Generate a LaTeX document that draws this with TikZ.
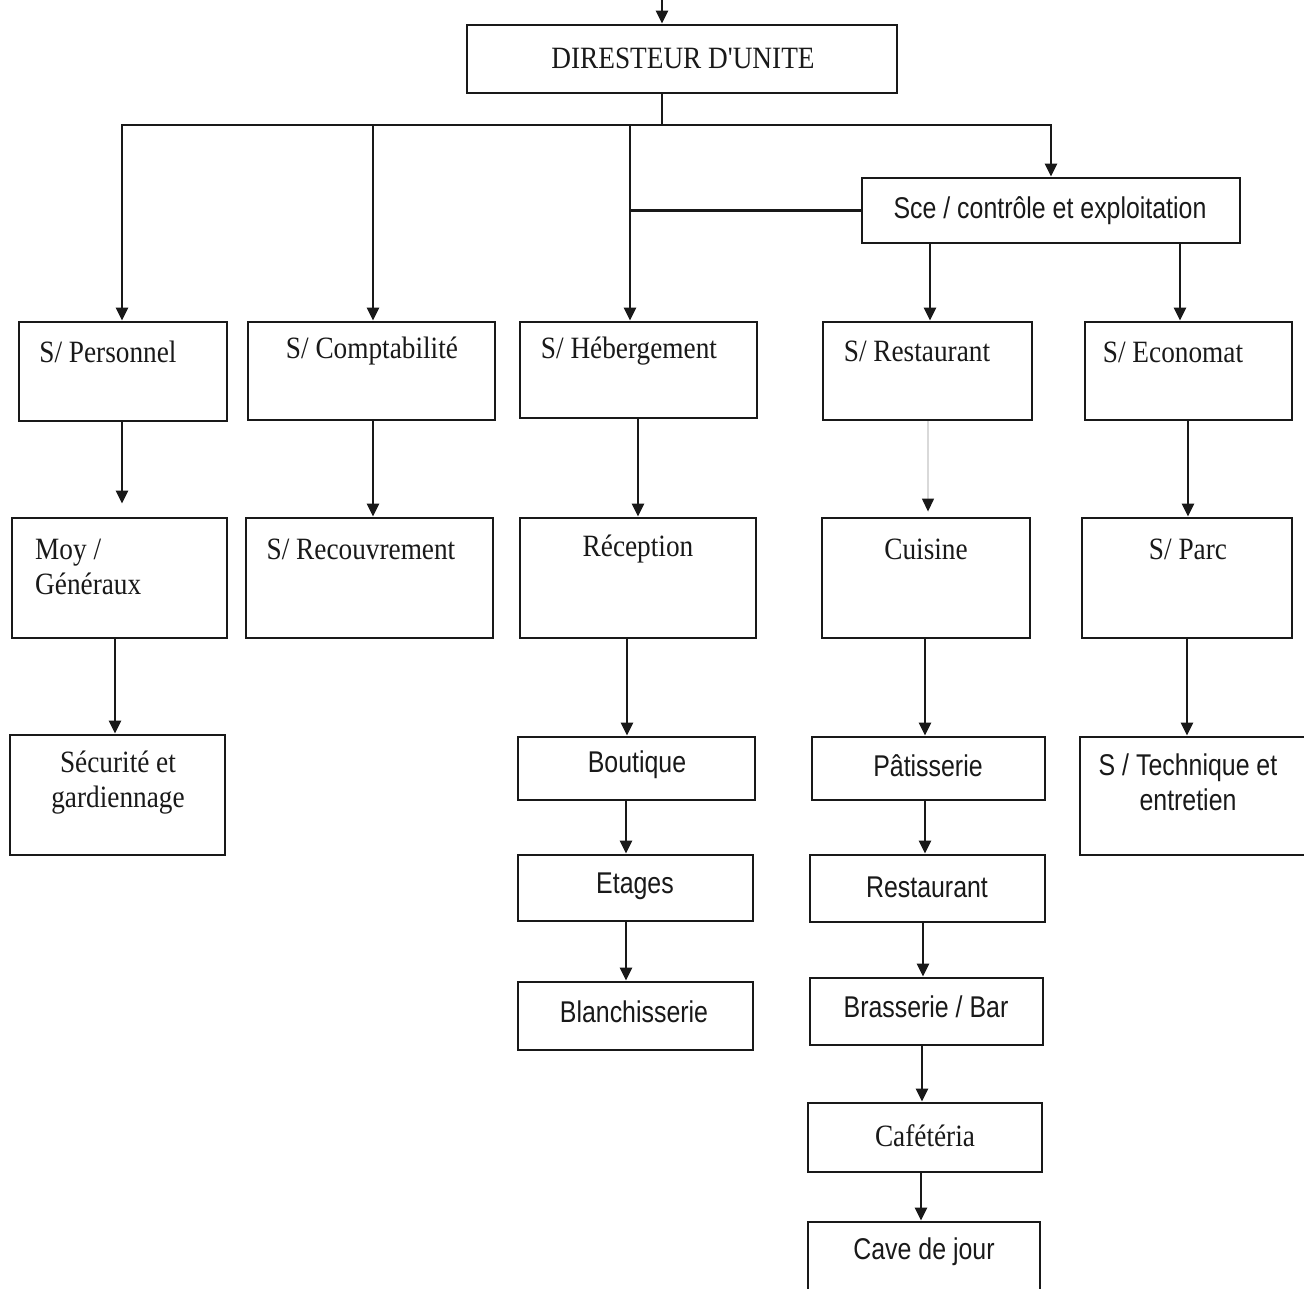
\documentclass[tikz,border=0pt]{standalone}
\usepackage{fontspec}
\setmainfont{Liberation Serif}
\newfontfamily\orgserif[FakeStretch=0.88]{Liberation Serif}
\newfontfamily\orgsans[FakeStretch=0.83]{Liberation Sans}
\usetikzlibrary{arrows.meta}
\tikzset{
  box/.style={draw=black!90, line width=2.9pt, inner sep=0pt},
  txt/.style={inner sep=0pt, align=center, text=black!90,
              font=\orgserif\fontsize{31}{35}\selectfont},
  txtsans/.style={inner sep=0pt, align=center, text=black!90,
              font=\orgsans\fontsize{30}{35}\selectfont},
  link/.style={draw=black!90, line width=2.6pt},
  arr/.style={link, -{Triangle[length=13pt,width=12pt]}},
  faintarr/.style={draw=black!15, line width=1.4pt,
              -{Triangle[length=13pt,width=12pt,color=black!90]}}
}
\begin{document}
\begin{tikzpicture}[x=1pt,y=-1pt]
\fill[white] (0,0) rectangle (1304,1288);
\clip (0,0) rectangle (1304,1288);

% boxes
\node[box, minimum width=430pt, minimum height=68pt] (dir)    at (682,59)      {};
\node[box, minimum width=378pt, minimum height=65pt] (sce)    at (1051,210.5)  {};
\node[box, minimum width=208pt, minimum height=99pt] (pers)   at (123,371.5)   {};
\node[box, minimum width=247pt, minimum height=98pt] (compta) at (371.5,371)   {};
\node[box, minimum width=237pt, minimum height=96pt] (heb)    at (638.5,370)   {};
\node[box, minimum width=209pt, minimum height=98pt] (rest)   at (927.5,371)   {};
\node[box, minimum width=207pt, minimum height=98pt] (econ)   at (1188.5,371)  {};
\node[box, minimum width=215pt, minimum height=120pt] (moy)   at (119.5,578)   {};
\node[box, minimum width=247pt, minimum height=120pt] (recouv) at (369.5,578)  {};
\node[box, minimum width=236pt, minimum height=120pt] (recep)  at (638,578)    {};
\node[box, minimum width=208pt, minimum height=120pt] (cuis)   at (926,578)    {};
\node[box, minimum width=210pt, minimum height=120pt] (parc)   at (1187,578)   {};
\node[box, minimum width=215pt, minimum height=120pt] (secu)   at (117.5,795)  {};
\node[box, minimum width=237pt, minimum height=63pt] (bout)    at (636.5,768.5) {};
\node[box, minimum width=233pt, minimum height=63pt] (patis)   at (928.5,768.5) {};
\node[box, minimum width=235pt, minimum height=118pt] (tech)   at (1197.5,796)  {};
\node[box, minimum width=235pt, minimum height=66pt] (etages)  at (635.5,888)   {};
\node[box, minimum width=235pt, minimum height=67pt] (resto)   at (927.5,888.5) {};
\node[box, minimum width=235pt, minimum height=68pt] (blanch)  at (635.5,1016)  {};
\node[box, minimum width=233pt, minimum height=67pt] (brass)   at (926.5,1011.5) {};
\node[box, minimum width=234pt, minimum height=69pt] (cafe)    at (925,1137.5)  {};
\node[box, minimum width=232pt, minimum height=73pt] (cave)    at (924,1258.5)  {};

% texts
\node[txt] (tdir) at (683,58) {DIRESTEUR D'UNITE};
\node[txtsans] (tsce) at (1050,211) {Sce / contrôle et exploitation};
\node[txt] (tpers) at (108,352) {S/ Personnel};
\node[txt] (tcompta) at (372,351) {S/ Comptabilité};
\node[txt] (theb) at (629,351) {S/ Hébergement};
\node[txt] (trest) at (917,351) {S/ Restaurant};
\node[txt] (tecon) at (1173,352) {S/ Economat};
\node[txt, align=left, anchor=west] (tmoy) at (35,567) {Moy /\\Généraux};
\node[txt] (trecouv) at (361,549) {S/ Recouvrement};
\node[txt] (trecep) at (638,549) {Réception};
\node[txt] (tcuis) at (926,549) {Cuisine};
\node[txt] (tparc) at (1188,549) {S/ Parc};
\node[txt] (tsecu) at (118,783) {Sécurité et\\gardiennage};
\node[txtsans] (tbout) at (637,765) {Boutique};
\node[txtsans] (tpatis) at (928,766) {Pâtisserie};
\node[txtsans] (ttech) at (1188,782) {S / Technique et\\entretien};
\node[txtsans] (tetages) at (635,886) {Etages};
\node[txtsans] (tresto) at (927,887) {Restaurant};
\node[txtsans] (tblanch) at (634,1012) {Blanchisserie};
\node[txtsans] (tbrass) at (926,1007) {Brasserie / Bar};
\node[txt] (tcafe) at (925,1136) {Cafétéria};
\node[txtsans] (tcave) at (924,1252) {Cave de jour};

% incoming link from above
\coordinate (top) at (662,-4);
\draw[arr] (top) -- (top |- dir.north);

% distribution bus
\coordinate (bus) at (662,125);
\coordinate (busL) at (122,125);
\coordinate (busR) at (sce.north |- bus);
\draw[link] (dir.south -| bus) -- (bus);
\draw[link, line cap=rect] (busL) -- (busR);
\draw[arr] (busL) -- (busL |- pers.north);
\draw[arr] ([xshift=1.5pt]compta.north |- bus) -- ([xshift=1.5pt]compta.north);
\draw[arr] ([xshift=-8.5pt]heb.north |- bus) -- ([xshift=-8.5pt]heb.north);
\draw[arr] (busR) -- (sce.north);
\draw[link] (sce.west) -- ([xshift=-8.5pt]heb.north |- sce.west);

% from the control service
\draw[arr] ([xshift=2.5pt]rest.north |- sce.south) -- ([xshift=2.5pt]rest.north);
\draw[arr] ([xshift=-8.5pt]econ.north |- sce.south) -- ([xshift=-8.5pt]econ.north);

% second level
\draw[arr, shorten >=13pt] ([xshift=-1pt]pers.south) -- ([xshift=-1pt]pers.south |- moy.north);
\draw[arr] ([xshift=1.5pt]compta.south) -- ([xshift=1.5pt]compta.south |- recouv.north);
\draw[arr] ([xshift=-0.5pt]heb.south) -- ([xshift=-0.5pt]heb.south |- recep.north);
\draw[faintarr, shorten >=5pt] ([xshift=0.5pt]rest.south) -- ([xshift=0.5pt]rest.south |- cuis.north);
\draw[arr] ([xshift=-0.5pt]econ.south) -- ([xshift=-0.5pt]econ.south |- parc.north);

% third level and chains
\draw[arr] ([xshift=-4.5pt]moy.south) -- ([xshift=-4.5pt]moy.south |- secu.north);
\draw[arr] ([xshift=-11pt]recep.south) -- ([xshift=-11pt]recep.south |- bout.north);
\draw[arr] ([xshift=-1pt]cuis.south) -- ([xshift=-1pt]cuis.south |- patis.north);
\draw[arr] (parc.south) -- (parc.south |- tech.north);
\draw[arr] ([xshift=-10.5pt]bout.south) -- ([xshift=-10.5pt]bout.south |- etages.north);
\draw[arr] ([xshift=-9.5pt]etages.south) -- ([xshift=-9.5pt]etages.south |- blanch.north);
\draw[arr] ([xshift=-3.5pt]patis.south) -- ([xshift=-3.5pt]patis.south |- resto.north);
\draw[arr] ([xshift=-4.5pt]resto.south) -- ([xshift=-4.5pt]resto.south |- brass.north);
\draw[arr] ([xshift=-4.5pt]brass.south) -- ([xshift=-4.5pt]brass.south |- cafe.north);
\draw[arr] ([xshift=-4pt]cafe.south) -- ([xshift=-4pt]cafe.south |- cave.north);
\end{tikzpicture}
\end{document}
